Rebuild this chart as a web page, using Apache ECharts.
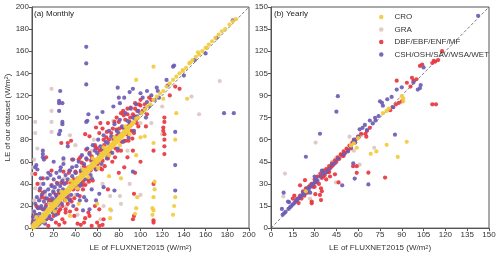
<!DOCTYPE html>
<html><head><meta charset="utf-8">
<script src="https://cdn.jsdelivr.net/npm/echarts@6/dist/echarts.min.js"></script>
<style>html,body{margin:0;padding:0;background:#fff}#c{width:500px;height:257px}</style>
</head><body><div id="c"></div>
<script>
// Monthly (panel a)
var monthlyTicks = [0, 200, 20];
var mGRA = [[3,96],[18,126],[18,106],[18,96],[173,133],[154,103],[147,119],[120,85],[93,87],[3,86],[5,72],[0,49],[1,55],[3,36],[35,84],[18,87],[29,61],[35,37],[18,23],[46,55],[72,29],[81,29],[82,22],[66,20],[63,8],[73,16],[1,15],[2,25],[5,10],[8,40],[12,30],[15,45],[22,28],[25,18],[30,45],[40,30],[50,40],[55,70],[60,55],[45,60],[65,60],[70,75],[75,97],[85,90],[90,88],[95,100],[100,95],[10,5],[28,30],[38,42],[48,52],[58,62],[68,66],[78,82],[13,14],[20,35],[32,20],[42,12],[52,48],[90,40],[100,30],[88,70],[120,110],[110,95],[8,26],[40,75],[57,80],[65,40],[2,62],[6,18]];
var mDBF = [[1,6],[2,3],[3,12],[4,3],[5,19],[6,9],[7,4],[8,18],[9,28],[10,6],[11,17],[12,27],[13,8],[14,16],[15,26],[16,9],[17,25],[18,39],[19,16],[20,24],
[20,32],[21,15],[22,25],[23,41],[24,13],[25,32],[26,24],[27,41],[28,20],[29,51],[30,31],[31,17],[32,41],[33,29],[34,50],[35,26],[36,41],[37,62],[38,35],[39,27],[40,51],[41,43],[42,35],[43,62],[44,29],[45,51],[46,59],[47,42],[48,56],[49,39],[50,71],[51,54],[52,44],[53,68],[54,52],[55,65],[56,43],[57,61],[58,75],[59,53],[60,72],[61,60],[62,86],[63,54],[64,71],[65,61],[66,80],[67,56],[68,70],[69,87],[70,63],[71,80],[72,69],[73,86],[74,60],[75,80],[76,96],[77,72],[78,89],[79,70],[80,96],[81,82],[82,70],[83,91],[84,106],[85,79],[86,98],[87,85],[88,103],[89,79],[90,96],[91,109],[92,88],[93,103],[94,86],[95,108],[96,99],[97,106],[98,92],[100,111],[102,106],[104,112],[106,103],[108,118],[110,116],
[20.5,18],[22.5,30],[24.5,15],[26.5,30],[28.5,41],[30.5,25],[32.5,33],[34.5,52],[36.5,24],[38.5,44],[40.5,50],[42.5,38],[44.5,64],[46.5,39],[48.5,51],[50.5,62],[52.5,42],[54.5,61],[56.5,55],[58.5,73],[60.5,58],[62.5,70],[64.5,53],[66.5,75],[68.5,82],[70.5,66],[72.5,73],[74.5,90],[76.5,64],[78.5,84],[80.5,90],[82.5,78],[84.5,102],[86.5,79],[88.5,92],[90.5,100],[92.5,81],[94.5,101],[96.5,95],[98.5,112],
[122,100],[122,96],[136,126],[132,128],[127,120],[5,40],[10,45],[3,49],[7,34],[10,32],[13,21],[4,20],[18,52],[13,64],[27,77],[33,77],[36,79],[49,85],[53,83],[59,91],[63,95],[47,35],[41,17],[31,14],[39,11],[52,14],[49,9],[53,11],[58,20],[62,17],[33,22],[20,11],[26,17],[88,64],[93,70],[94,31],[93,8],[94,11],[112,40],[112,5],[112,7],[112,70],[121,91],[122,74],[122,67],[122,80],[122,85],[121,88],[45,3],[48,5],[55,2],[60,5],[65,3],[30,5],[25,3],[15,2],[70,35],[80,50],[85,55],[65,90],[70,95],[78,100],[82,104],[88,108],[95,113],[100,116],[35,15],[28,8],[22,5],[62,2],[66,8],[42,4],[100,60],[95,50],[105,92]];
var mCSH = [[0.5,4],[1,10],[1.5,1],[2,15],[2.5,6],[3,22],[3.5,2],[4,12],[4.5,28],[5,8],[5.5,18],[6,3],[6.5,25],[7,13],[7.5,36],[8,9],[8.5,20],[9,30],[9.5,6],[10,17],[10.5,40],[11,24],[11.5,12],[12,33],[12.5,19],[13,8],[13.5,27],[14,45],[14.5,16],[15,35],[15.5,23],[16,11],[16.5,30],[17,48],[17.5,20],[18,38],[18.5,27],[19,14],[19.5,33],[20,44],[20.5,25],[21,37],[21.5,18],[22,30],[22.5,50],[23,28],[23.5,40],[24,21],[24.5,34],[25,46],[25.5,26],[26,38],[26.5,55],[27,31],[27.5,22],[28,43],[28.5,35],[29,58],[29.5,29],[30,40],[31,48],[32,27],[33,44],[34,36],[35,52],[36,30],[37,47],[38,62],[39,38],[40,50],
[41,56],[42,45],[43,60],[44,38],[45,52],[46,66],[47,48],[48,58],[49,44],[50,63],[51,72],[52,55],[53,67],[54,48],[55,62],[56,75],[57,60],[58,70],[59,53],[60,68],[61,80],[62,66],[63,74],[64,58],[65,72],[66,84],[67,70],[68,78],[69,63],[70,77],[71,88],[72,74],[73,83],[74,68],[75,82],[76,94],[77,79],[78,88],[79,72],[80,86],[81,98],[82,84],[83,92],[84,78],[85,90],[86,104],[87,89],[88,97],[89,82],[90,95],[91,108],[92,94],[93,100],[94,88],[95,99],[96,112],[97,101],[98,106],[100,104],[102,118],[104,108],[106,114],[108,110],[110,120],[113,116],[116,124],
[44,25],[47,16],[50,25],[53,17],[59,25],[62,31],[66,37],[76,34],[79,127],[81,113],[80,118],[90,123],[93,126],[93,51],[106,124],[115,127],[117,118],[124,134],[125,129],[130,146],[131,147],[132,87],[132,57],[132,34],[177,104],[186,104],[150,152],[170,172],[185,188],[50,164],[50,149],[50,130],[26,124],[25,115],[25,113],[28,113],[25,106],[28,96],[28,94],[52,103],[51,97],[50,96],[10,67],[10,64],[11,62],[10,70],[4,57],[3,55],[5,53],[26,88],[25,85],[29,63],[37,55],[26,52],[33,74],[20,60],[15,50],[8,45],[45,40],[55,45],[38,20],[42,30],[55,35],[48,28],[22,12],[18,8],[12,4],[35,25],[60,100],[65,105],[75,110],[85,118],[100,122],[105,100],[140,138],[160,158]];
var mCRO = [[0.5,1],[1,2.5],[1.5,0.5],[2,3],[2.5,4.5],[3,1.5],[3.5,3],[4,5],[4.5,2.5],[5,6.5],[5.5,5],[6,4],[6.5,8],[7,7],[7.5,5.5],[8,9.5],[8.5,7],[9,10],[9.5,8.5],[10,11.5],[10.5,9],[11,13],[11.5,11],[12,10],[12.5,14],[13,12.5],[13.5,15],[14,13],[14.5,16.5],[15,14],[15.5,17],[16,15.5],[16.5,18],[17,16],[17.5,19.5],[18,17.5],[18.5,20],[19,18],[19.5,21],[20,19.5],[20.5,23],[21,20],[21.5,22.5],[22,24.5],[22.5,21],[23,25],[23.5,22.5],[24,26],[24.5,24],[25,27.5],[25.5,25],[26,28],[26.5,26],[27,29.5],[27.5,27],[28,30.5],[28.5,28],[29,31],[29.5,29.5],[30,32.5],[30.5,30],[31,33],[31.5,31],[32,34.5],[32.5,32.5],[33,35],[33.5,33],[34,36.5],[34.5,34],[35,37],[35.5,35.5],[36,38.5],[36.5,36],[37,39],[37.5,37.5],[38,40.5],[38.5,38],[39,41.5],[39.5,39.5],[40,42],[40.5,40],[41,43.5],[41.5,41.5],[42,44],[42.5,42],[43,45.5],[43.5,43.5],[44,46],[44.5,44],[45,47.5],[45.5,45],[46,48.5],[46.5,46.5],[47,49],[47.5,47],[48,50.5],[48.5,48.5],[49,51],[49.5,49],[50,52.5],[50.5,50.5],[51,53],[51.5,51],[52,54.5],[52.5,52.5],[53,55],[53.5,53],[54,56.5],[54.5,54.5],[55,57],[55.5,55],[56,58.5],[56.5,56.5],[57,59],[57.5,57],[58,60.5],[58.5,58.5],[59,61.5],[59.5,59.5],[60,62],[60.5,60],[61,63.5],[61.5,61.5],[62,64],[62.5,62],[63,65.5],[63.5,63.5],[64,66],[64.5,64],[65,67.5],[65.5,65.5],[66,68],[66.5,66],[67,69.5],[67.5,67.5],[68,70],[68.5,68],[69,71.5],[69.5,69.5],[70,72],[70.5,70],[71,73.5],[71.5,71.5],[72,74],[72.5,72],[73,75.5],[73.5,73.5],[74,76],[74.5,74],[75,77.5],[75.5,75.5],[76,78],[76.5,76],[77,79.5],[77.5,77.5],[78,80],[78.5,78],[79,81.5],[79.5,79.5],[80,82],[80.5,80],[81,83.5],[81.5,81.5],[82,84],[82.5,82],[83,85.5],[83.5,83.5],[84,86],[84.5,84],[85,87.5],[85.5,85.5],[86,88],[86.5,86],[87,89.5],[87.5,87.5],[88,90],[88.5,88],[89,91],[90,92],[91,92.5],[92,94],[93,95],[94,96],
[4,10],[11,6],[16,22],[21,15],[27,33],[31,25],[36,43],[42,36],[47,53],[52,46],[56,63],[61,54],[66,73],[71,66],[76,82],[81,75],[86,92],[90,85],
[96,99],[98,100],[101,104],[104,107],[106,110],[109,112],[112,116],[115,119],[118,122],[121,124],[124,128],[127,131],[130,134],[133,137],[136,140],[139,143],[142,145],[145,149],[148,152],[151,155],[154,157],[157,160],[160,163],[163,166],[166,169],[169,172],[172,175],[175,178],[178,180],[182,184],[185,187],[188,189],
[112,146],[96,134],[143,117],[133,104],[104,83],[100,82],[112,77],[113,42],[113,35],[112,28],[111,18],[112,16],[111,12],[132,80],[132,28],[131,20],[130,12],[97,28],[96,18],[95,13],[96,66],[71,47],[43,22],[72,17],[72,9],[35,11],[60,22],[82,45],[146,150],[153,159],[161,163],[139,142],[121,117]];

// Yearly (panel b)
var yearlyTicks = [0, 150, 15];
var yGRA = [[30.7,58],[9.6,37],[8.5,21.5],[54,62],[71,54.5],[57,52.5],[61,43],[44.7,31],[26.8,20],[45,48],[38,40],[33,35],[20,21],[25,26],[62,63],[48,50],[28,30],[42,45]];
var yDBF = [[117.7,120],[111,112],[113,113],[115,114],[112,113.5],[102.5,110],[104,111],[97,102],[100,101],[86.5,100],[93.5,98.6],[96,96],[98,100],[111,84],[113.5,84],[84,82],[86,84],[88,85],[90,86],[82,80],[78.5,34.3],[67,37.6],[59,42],[56.5,42],[59,37.5],[46.5,31],[44,36.5],[40.6,35],[41.9,42],[34.4,19],[33.7,22.5],[34.4,27],[28,18],[28,16.8],[30.5,23],[23.4,32.5],[20,29],[16,22],[15,20],[18,20],[20,22],[22,25],[24,27],[26,28],[28,30],[30,33],[32,35],[34,37],[36,39],[38,40],[40,42],[42,44],[44,46],[46,48],[48,50],[50,52],[52,54],[54,56],[56,58],[58,60],[60,62],[62,64],[65.6,62],[65,64],[66,66],[68,68],[35,34],[37,36],[39,38],[41,41],[43,43],[45,45],[47,47],[49,49],[51,51],[53,53],[25,24],[27,29],[31,31],[33,30],[17,18],[19,17],[21,20],[23,22],[29,28],[36,35],[40,38],[50,49],[55,54],[57,59],[38,33],[35,25],[30,28]];
var yCSH = [[142.5,144],[105,109],[102.5,95],[103,97],[98,98.7],[101,94],[46,89.5],[45,79],[75,86],[76.4,85],[77,83],[80,87.4],[83,89],[84,82],[86.5,94],[90,95.5],[33.7,64],[24,48.4],[8.7,24],[7.5,13],[8,9],[12.4,17.6],[11.7,18],[68,73],[71.6,74.8],[66,66.5],[61,67],[63,68],[64.6,70],[60,62],[57,60],[56.6,44],[57.6,33.6],[67,29.6],[49,29],[85.3,63.4],[10,11],[12,13],[14,15],[15,16],[16,17],[17,18.5],[18,19],[19,20],[20,21],[21,22],[22,24],[23,23],[24,25],[25,27],[26,26],[27,28],[28,29],[29,30],[30,31],[31,33],[32,32],[34,35],[36,37],[38,38],[40,40],[42,43],[44,44],[46,47],[50,50],[53,52],[55,55],[58,58],[70,71],[72,73],[74,76],[30,35],[27,24],[35,39],[9,10],[13,14]];
var yCRO = [[59,54.5],[68.6,50.4],[72.5,52],[79.6,56.5],[93.4,58.5],[87.2,48.3],[55,56],[57,57.5],[77,78],[79.5,79.5],[81,81],[91,86],[91,88],[90,89.5],[60,61],[24,25]];

var names = ['CRO','GRA','DBF/EBF/ENF/MF','CSH/OSH/SAV/WSA/WET'];
var colors = {'CRO':'#f2cb3f','GRA':'#dcc7c2','DBF/EBF/ENF/MF':'#e8363f','CSH/OSH/SAV/WSA/WET':'#6c5cb4'};

var chart = echarts.init(document.getElementById('c'), null, {renderer:'canvas'});
var F = 'Liberation Sans, Arial, sans-serif';
function axis(idx, t, name, isY) {
  var a = {
    type:'value', gridIndex: idx, min:t[0], max:t[1], interval:t[2],
    axisLine:{show:true, lineStyle:{color:'#555', width:1}},
    axisTick:{show:true, inside:false, length:3, lineStyle:{color:'#555'}},
    axisLabel:{fontSize:8, color:'#333', fontFamily:F, margin:3},
    splitLine:{show:false}
  };
  if (name) {
    a.name = name; a.nameLocation = 'middle';
    a.nameGap = isY ? 19 : 14;
    a.nameTextStyle = {fontSize:8, color:'#333', fontFamily:F,
      rich:{sup:{fontSize:5.5, verticalAlign:'top', lineHeight:8, color:'#333', fontFamily:F}}};
  }
  return a;
}
var nm = 'LE of FLUXNET2015 (W/m{sup|2})';
function sc(name, data, gi, z) {
  return {name:name, type:'scatter', xAxisIndex:gi, yAxisIndex:gi, data:data, symbolSize:4.2,
    itemStyle:{color:colors[name], opacity:0.92}, z:z, silent:true, animation:false};
}
var diagM = [[0,0],[200,200]];
var diagY = [[0,0],[150,150]];
chart.setOption({
  animation:false,
  grid:[
    {left:32, top:7, width:217, height:223, show:true, borderColor:'#555', borderWidth:1},
    {left:271, top:7, width:218, height:223, show:true, borderColor:'#555', borderWidth:1}
  ],
  title:[
    {text:'(a) Monthly', left:34, top:10, textStyle:{fontSize:8, fontWeight:'normal', color:'#222', fontFamily:F}, padding:0},
    {text:'(b) Yearly', left:274, top:10, textStyle:{fontSize:8, fontWeight:'normal', color:'#222', fontFamily:F}, padding:0}
  ],
  legend:{data:names, orient:'vertical', left:379, top:13, itemGap:4.5, itemWidth:4.5, itemHeight:4.5, icon:'circle',
    textStyle:{fontSize:8, color:'#333', fontFamily:F, padding:[0,0,0,6]}, padding:0},
  xAxis:[axis(0, monthlyTicks, nm, false), axis(1, yearlyTicks, nm, false)],
  yAxis:[axis(0, monthlyTicks, 'LE of our dataset (W/m{sup|2})', true), axis(1, yearlyTicks, null, true)],
  series:[
    {type:'line', xAxisIndex:0, yAxisIndex:0, data:diagM, symbol:'none', lineStyle:{color:'#444', width:0.7, type:[3,2]}, z:1, silent:true},
    {type:'line', xAxisIndex:1, yAxisIndex:1, data:diagY, symbol:'none', lineStyle:{color:'#444', width:0.7, type:[3,2]}, z:1, silent:true},
    sc('GRA', mGRA, 0, 2), sc('DBF/EBF/ENF/MF', mDBF, 0, 3), sc('CSH/OSH/SAV/WSA/WET', mCSH, 0, 4), sc('CRO', mCRO, 0, 5),
    sc('GRA', yGRA, 1, 2), sc('DBF/EBF/ENF/MF', yDBF, 1, 3), sc('CSH/OSH/SAV/WSA/WET', yCSH, 1, 4), sc('CRO', yCRO, 1, 5)
  ]
});
</script></body></html>
